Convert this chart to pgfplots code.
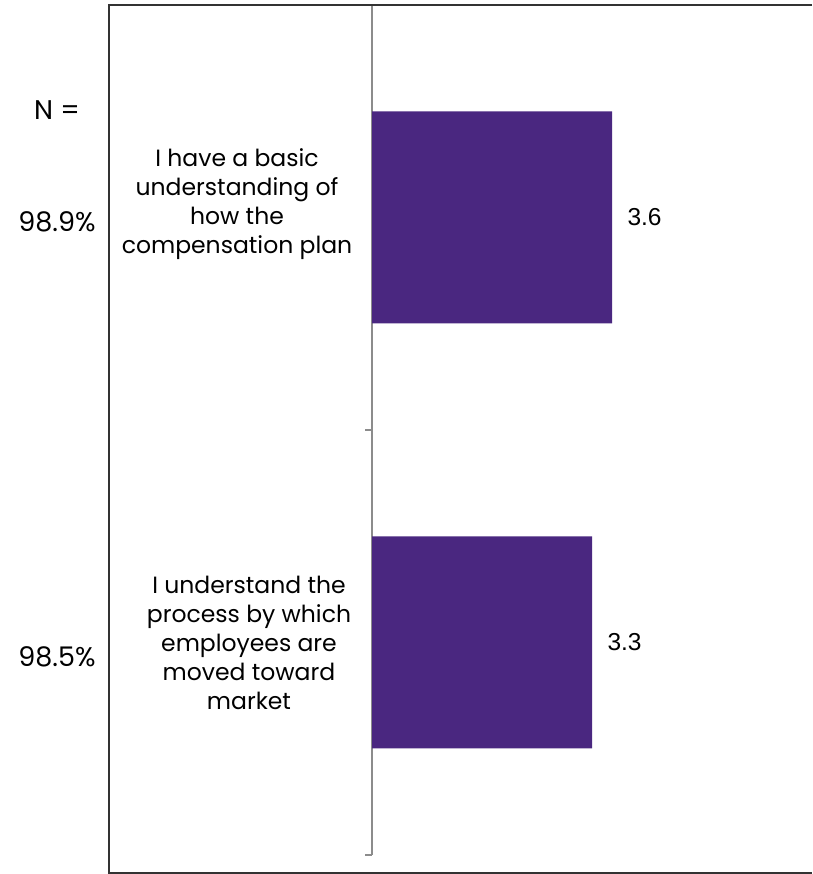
\documentclass[border=0pt]{standalone}
\usepackage{fontspec}
\usepackage{pgfplots}
\pgfplotsset{compat=1.18}
\newfontfamily\gotham{Poppins}
\newfontfamily\arial{Liberation Sans}
\definecolor{barpurple}{RGB}{74,39,128}
\definecolor{axgray}{RGB}{140,140,140}
\definecolor{framegray}{RGB}{51,51,51}
\begin{document}
\begin{tikzpicture}[x=1pt,y=1pt]
\useasboundingbox (0pt,0pt) rectangle (812pt,874pt);
\begin{axis}[
  at={(372pt,19pt)}, anchor=south west,
  width=440pt, height=850pt, scale only axis,
  xmin=0, xmax=6.6,
  ymin=-0.5, ymax=1.5,
  axis x line=none,
  axis y line*=left,
  y axis line style={axgray, line width=2pt},
  ytick={-0.5,0.5,1.5}, yticklabels={},
  tick align=outside, major tick length=7pt,
  every tick/.style={axgray, line width=2pt},
  clip=false,
  nodes near coords,
  every node near coord/.append style={font=\arial\fontsize{24.5}{28}\selectfont, anchor=west, xshift=12pt, color=black},
  point meta=explicit symbolic,
]
\addplot[xbar, bar width=212pt, fill=barpurple, draw=none] coordinates {(3.6,1) [3.6] (3.3,0) [3.3]};
\end{axis}
\draw[framegray, line width=1.3pt] (812pt,869pt) -- (109pt,869pt) -- (109pt,1pt) -- (812pt,1pt);
\begin{scope}[every node/.style={font=\gotham\fontsize{23.5}{29}\selectfont, align=center, inner sep=0pt}]
\node at (237pt,670pt) {I have a basic\\understanding of\\how the\\compensation plan};
\node at (249pt,231pt) {I understand the\\process by which\\employees are\\moved toward\\market};
\end{scope}
\begin{scope}[every node/.style={font=\gotham\fontsize{27}{30}\selectfont, inner sep=0pt}]
\node at (57pt,764pt) {N =};
\node at (57pt,652pt) {98.9\%};
\node at (57pt,217pt) {98.5\%};
\end{scope}
\end{tikzpicture}
\end{document}
